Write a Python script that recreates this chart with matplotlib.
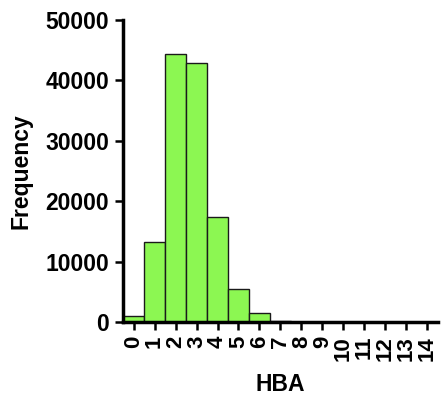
import matplotlib
matplotlib.use("Agg")
import matplotlib.pyplot as plt
import numpy as np

# HBA counts per number of acceptors
hba = list(range(15))
freq = [950, 13300, 44300, 42800, 17400, 5500, 1450, 100, 30, 10, 4, 2, 1, 0, 0]
yticks = [0, 10000, 20000, 30000, 40000, 50000]

plt.rcParams['font.family'] = ['Liberation Sans', 'DejaVu Sans']
plt.rcParams['font.weight'] = 'bold'

fig = plt.figure(figsize=(4.41, 3.98), dpi=100)
ax = fig.add_axes([0.279, 0.191, 0.714, 0.759])

ax.bar(hba, freq, width=1.0, color='#8cf752', edgecolor='#1a1a1a', linewidth=1.0, zorder=2)

ax.set_xlim(-0.5, 14.5)
ax.set_ylim(0, 50000)
ax.set_xticks(hba)
ax.set_xticklabels([str(v) for v in hba], rotation=90, fontsize=16, fontweight='bold')
ax.set_yticks(yticks)
ax.set_yticklabels([str(v) for v in yticks], fontsize=16.5, fontweight='bold')

for side in ['top', 'right']:
    ax.spines[side].set_visible(False)
for side in ['left', 'bottom']:
    ax.spines[side].set_linewidth(2.5)
    ax.spines[side].set_zorder(3)
ax.tick_params(axis='both', direction='out', length=6, width=1.8, pad=4)

ax.set_xlabel('HBA', fontsize=16.5, fontweight='bold', labelpad=9)
ax.set_ylabel('Frequency', fontsize=16.5, fontweight='bold', labelpad=9)

fig.savefig('out.png', dpi=100)
